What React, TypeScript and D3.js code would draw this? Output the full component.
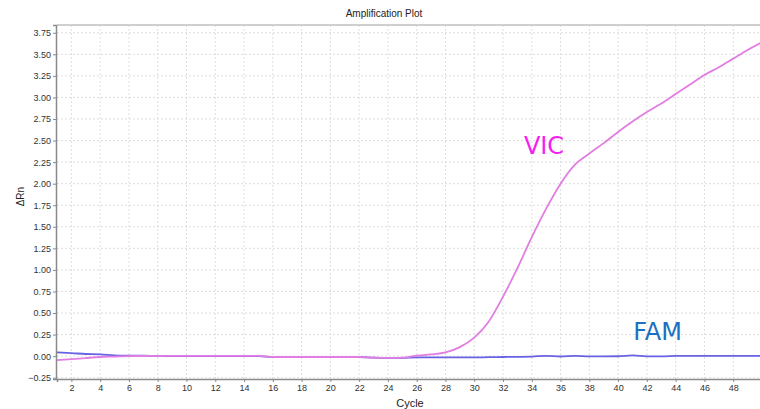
import { useEffect, useRef } from "react";
import * as d3 from "d3";

const cycles = d3.range(1, 51);

// ΔRn per cycle
const vicValues = [
  -0.046, -0.035, -0.022, -0.01, -0.005, 0.0, 0.004, 0.0, 0.004, 0.004,
  0.004, 0.004, 0.004, 0.004, 0.004, -0.01, -0.01, -0.01, -0.01, -0.01,
  -0.01, -0.01, -0.018, -0.02, -0.018, 0.005, 0.02, 0.043, 0.105, 0.215,
  0.4, 0.69, 1.02, 1.38, 1.71, 2.0, 2.22, 2.35, 2.47, 2.6,
  2.72, 2.83, 2.93, 3.04, 3.15, 3.26, 3.35, 3.45, 3.55, 3.64,
];

const famValues = [
  0.043, 0.035, 0.025, 0.02, 0.01, 0.005, 0.005, 0.0, 0.0, 0.0,
  0.0, 0.0, 0.0, 0.0, 0.0, -0.01, -0.01, -0.01, -0.01, -0.01,
  -0.01, -0.01, -0.018, -0.02, -0.02, -0.015, -0.015, -0.015, -0.015, -0.015,
  -0.012, -0.01, -0.008, -0.005, 0.004, -0.004, 0.004, -0.002, -0.002, -0.001,
  0.008, -0.002, -0.002, 0.002, 0.004, 0.004, 0.004, 0.004, 0.004, 0.004,
];

const xTicks = d3.range(2, 50, 2);
const yTicks = d3.range(-0.25, 3.76, 0.25);

const series = [
  { name: "VIC", values: vicValues, color: "#e27de3", label: "#f51ef0", lx: 33.45, ly: 2.34 },
  { name: "FAM", values: famValues, color: "#6a62e4", label: "#1c6fc2", lx: 41.05, ly: 0.19 },
];

const W = 760;
const H = 409;
const margin = { top: 25, right: -2, bottom: 30, left: 57 };

function App() {
  const ref = useRef(null);

  useEffect(() => {
    const svg = d3.select(ref.current);
    svg.selectAll("*").remove();

    const x = d3.scaleLinear().domain([1, 50]).range([margin.left, W - margin.right]);
    const y = d3
      .scaleLinear()
      .domain([-0.265, 3.84])
      .range([H - margin.bottom, margin.top]);

    const font = "Arial, 'Liberation Sans', sans-serif";

    // grid
    const grid = svg.append("g").attr("stroke", "#dedede").attr("stroke-dasharray", "2,2");
    grid
      .selectAll("line.gx")
      .data(xTicks)
      .join("line")
      .attr("x1", (d) => x(d))
      .attr("x2", (d) => x(d))
      .attr("y1", margin.top)
      .attr("y2", H - margin.bottom);
    grid
      .selectAll("line.gy")
      .data(yTicks)
      .join("line")
      .attr("x1", margin.left)
      .attr("x2", W)
      .attr("y1", (d) => y(d))
      .attr("y2", (d) => y(d));

    // top border
    svg
      .append("line")
      .attr("x1", margin.left)
      .attr("x2", W)
      .attr("y1", margin.top)
      .attr("y2", margin.top)
      .attr("stroke", "#cfcfcf")
      .attr("stroke-width", 2);

    // axes
    const yAxis = svg
      .append("g")
      .attr("transform", `translate(${margin.left - 1},0)`)
      .call(
        d3
          .axisLeft(y)
          .tickValues(yTicks)
          .tickSize(3)
          .tickFormat((d) => d3.format(".2f")(d))
      );
    const xAxis = svg
      .append("g")
      .attr("transform", `translate(0,${H - margin.bottom})`)
      .call(d3.axisBottom(x).tickValues(xTicks).tickSize(3).tickFormat(d3.format("d")));

    [yAxis, xAxis].forEach((g) => {
      g.select(".domain").attr("stroke", "#8a8a8a").attr("stroke-width", 1.5);
      g.selectAll(".tick line").attr("stroke", "#8a8a8a");
      g.selectAll("text").attr("fill", "#333").style("font-family", font).style("font-size", "9px");
    });
    yAxis.selectAll("text").attr("x", -5);
    xAxis.selectAll("text").attr("y", 6);

    // lines
    const line = d3
      .line()
      .x((d) => x(d[0]))
      .y((d) => y(d[1]))
      .curve(d3.curveMonotoneX);

    const plot = svg.append("g");
    series
      .slice()
      .reverse()
      .forEach((s) => {
        plot
          .append("path")
          .datum(cycles.map((c, i) => [c, s.values[i]]))
          .attr("fill", "none")
          .attr("stroke", s.color)
          .attr("stroke-width", 1.8)
          .attr("d", line);
      });

    // series labels
    series.forEach((s) => {
      svg
        .append("text")
        .attr("x", x(s.lx))
        .attr("y", y(s.ly))
        .attr("fill", s.label)
        .style("font-family", "'DejaVu Sans', sans-serif")
        .style("font-size", "24px")
        .text(s.name);
    });

    // titles
    svg
      .append("text")
      .attr("x", 384)
      .attr("y", 17)
      .attr("text-anchor", "middle")
      .attr("fill", "#222")
      .style("font-family", font)
      .style("font-size", "10px")
      .text("Amplification Plot");

    svg
      .append("text")
      .attr("x", 410)
      .attr("y", 407)
      .attr("text-anchor", "middle")
      .attr("fill", "#222")
      .style("font-family", font)
      .style("font-size", "11px")
      .text("Cycle");

    svg
      .append("text")
      .attr("transform", `translate(24,${y(1.85)}) rotate(-90)`)
      .attr("text-anchor", "middle")
      .attr("fill", "#222")
      .style("font-family", font)
      .style("font-size", "10px")
      .text("ΔRn");
  }, []);

  return (
    <svg
      ref={ref}
      width={W}
      height={H}
      style={{ position: "absolute", left: 0, top: 0, background: "#fff" }}
    />
  );
}

export default App;
